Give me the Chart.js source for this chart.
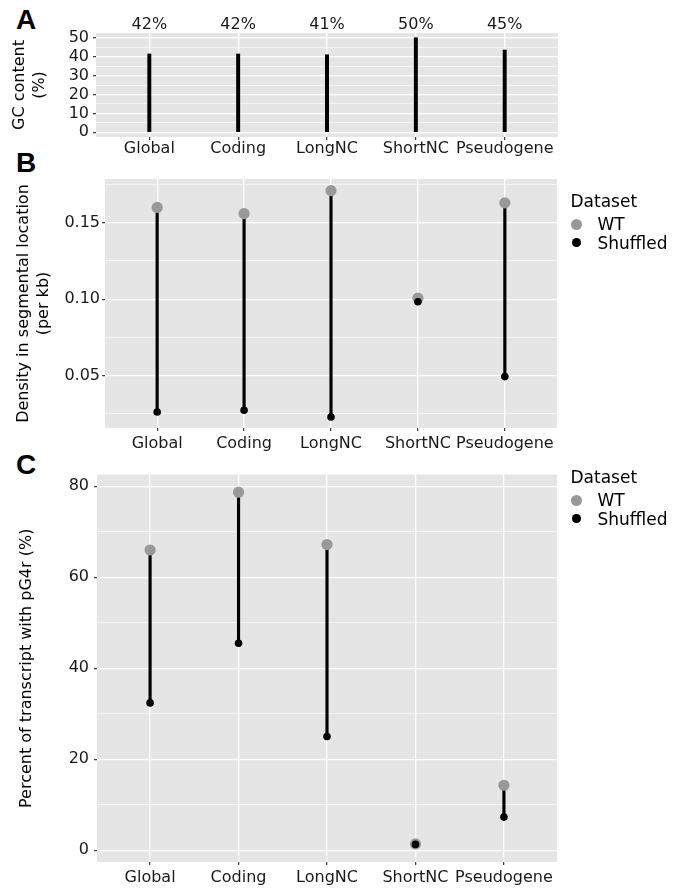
<!DOCTYPE html>
<html>
<head>
<meta charset="utf-8">
<script src="https://cdn.jsdelivr.net/npm/chart.js@4.4.1/dist/chart.umd.min.js"></script>
<style>
  body { margin: 0; background: #fff; width: 687px; height: 889px; position: relative; overflow: hidden; font-family: "DejaVu Sans"; }
  canvas { position: absolute; left: 0; }
  .tag { position: absolute; left: 16px; font: bold 28px "Liberation Sans"; line-height: 28px; color: #000; }
  .lg { position: absolute; font-size: 17px; line-height: 20px; color: #000; white-space: nowrap; }
  .dot { position: absolute; border-radius: 50%; }
</style>
</head>
<body>
<div class="tag" style="top:6px">A</div>
<div class="tag" style="top:149px">B</div>
<div class="tag" style="top:451px">C</div>
<canvas id="gcChart" width="687" height="160" style="top:0"></canvas>
<canvas id="densityChart" width="687" height="300" style="top:160px"></canvas>
<canvas id="pctChart" width="687" height="429" style="top:460px"></canvas>
<script>
const categories = ['Global', 'Coding', 'LongNC', 'ShortNC', 'Pseudogene'];
const seriesNames = ['WT', 'Shuffled'];
const legendTitle = 'Dataset';

const gcContent = [41.4, 41.4, 41.0, 50.0, 43.5];
const gcLabels = ['42%', '42%', '41%', '50%', '45%'];
const gcTicks = [0, 10, 20, 30, 40, 50];
const gcTickLabels = ['0', '10', '20', '30', '40', '50'];
const gcMinor = [5, 15, 25, 35, 45];

const densityWT = [0.160, 0.156, 0.171, 0.1007, 0.163];
const densityShuffled = [0.0263, 0.0274, 0.0230, 0.0983, 0.0494];
const densityTicks = [0.05, 0.10, 0.15];
const densityTickLabels = ['0.05', '0.10', '0.15'];
const densityMinor = [0.025, 0.075, 0.125, 0.175];

const pctWT = [66.0, 78.7, 67.2, 1.4, 14.3];
const pctShuffled = [32.4, 45.5, 25.0, 1.3, 7.3];
const pctTicks = [0, 20, 40, 60, 80];
const pctTickLabels = ['0', '20', '40', '60', '80'];
const pctMinor = [10, 30, 50, 70];

const FONT = 'DejaVu Sans';
const TICK_COLOR = '#1a1a1a';
const WT_COLOR = '#999999';

const panelBg = {
  id: 'panelBg',
  beforeDraw(chart) {
    const { ctx, chartArea: a } = chart;
    ctx.save();
    ctx.fillStyle = '#E5E5E5';
    ctx.fillRect(a.left, a.top, a.right - a.left, a.bottom - a.top);
    ctx.restore();
  }
};

function yScale(o) {
  const all = o.major.concat(o.minor).sort((a, b) => a - b);
  const isMajor = v => o.major.indexOf(v) >= 0;
  return {
    type: 'linear', min: o.min, max: o.max, bounds: 'data',
    afterBuildTicks: s => { s.ticks = all.map(v => ({ value: v })); },
    afterFit: s => { s.width = o.width; },
    ticks: {
      autoSkip: false, padding: o.pad, color: TICK_COLOR, font: { family: FONT, size: 16 },
      callback: v => { const i = o.major.indexOf(v); return i < 0 ? '' : o.labels[i]; }
    },
    grid: {
      color: '#fff',
      lineWidth: c => isMajor(c.tick.value) ? 1.3 : 0.6,
      tickLength: 3,
      tickWidth: 1.2,
      tickColor: c => isMajor(c.tick.value) ? '#333' : 'rgba(0,0,0,0)'
    },
    border: { display: false },
    title: {
      display: true, text: o.title, color: '#000',
      font: { family: FONT, size: 16, lineHeight: 1.25 },
      padding: { top: o.tpad, bottom: 0 }
    }
  };
}

function xScale(o) {
  return {
    type: 'linear', min: 0.4, max: 5.6, bounds: 'data', offset: false,
    afterBuildTicks: s => { s.ticks = categories.map((c, i) => ({ value: i + 1 })); },
    afterFit: s => { s.height = o.height; },
    ticks: {
      autoSkip: false, maxRotation: 0, padding: o.pad, color: TICK_COLOR,
      font: { family: FONT, size: 16 },
      callback: v => categories[v - 1]
    },
    grid: { offset: false, color: '#fff', lineWidth: 1.3, tickLength: 3, tickWidth: 1.2, tickColor: '#333' },
    border: { display: false }
  };
}

function dumbbell(wt, sh) {
  return [
    {
      type: 'line', label: seriesNames[1], order: 0, showLine: false,
      data: sh.map((v, i) => ({ x: i + 1, y: v })),
      pointRadius: 3.8, pointBackgroundColor: '#000', pointBorderWidth: 0
    },
    {
      type: 'line', label: seriesNames[0], order: 1, showLine: false,
      data: wt.map((v, i) => ({ x: i + 1, y: v })),
      pointRadius: 5.6, pointBackgroundColor: WT_COLOR, pointBorderWidth: 0
    },
    {
      type: 'bar', label: 'range', order: 2,
      data: wt.map((v, i) => ({ x: i + 1, y: [sh[i], v] })),
      backgroundColor: '#000', barThickness: 2.5
    }
  ];
}

const common = {
  responsive: false,
  animation: false,
  events: [],
  plugins: { legend: { display: false }, tooltip: { enabled: false } }
};

// A: GC content
const gcTopLabels = {
  id: 'gcTopLabels',
  afterDraw(chart) {
    const { ctx } = chart;
    const xs = chart.scales.x;
    ctx.save();
    ctx.font = '16px "' + FONT + '"';
    ctx.fillStyle = TICK_COLOR;
    ctx.textAlign = 'center';
    ctx.textBaseline = 'middle';
    gcLabels.forEach((t, i) => ctx.fillText(t, xs.getPixelForValue(i + 1), 24.8));
    ctx.restore();
  }
};

new Chart(document.getElementById('gcChart'), {
  type: 'bar',
  data: {
    datasets: [{
      data: gcContent.map((v, i) => ({ x: i + 1, y: v })),
      backgroundColor: '#000', barThickness: 3.3
    }]
  },
  options: Object.assign({}, common, {
    layout: { padding: { top: 33, right: 129, left: 0, bottom: 0 } },
    scales: {
      x: xScale({ height: 23, pad: -0.5 }),
      y: yScale({ min: -2.5, max: 52.5, major: gcTicks, labels: gcTickLabels, minor: gcMinor,
                  width: 96, pad: 4, title: ['GC content', '(%)'], tpad: 9.5 })
    }
  }),
  plugins: [panelBg, gcTopLabels]
});

// B: density
new Chart(document.getElementById('densityChart'), {
  type: 'bar',
  data: { datasets: dumbbell(densityWT, densityShuffled) },
  options: Object.assign({}, common, {
    layout: { padding: { top: 19, right: 130, left: 0, bottom: 0 } },
    scales: {
      x: xScale({ height: 32, pad: 3 }),
      y: yScale({ min: 0.0158, max: 0.1786, major: densityTicks, labels: densityTickLabels, minor: densityMinor,
                  width: 105, pad: 2, title: ['Density in segmental location', '(per kb)'], tpad: 14 })
    }
  }),
  plugins: [panelBg]
});

// C: percent of transcripts
new Chart(document.getElementById('pctChart'), {
  type: 'bar',
  data: { datasets: dumbbell(pctWT, pctShuffled) },
  options: Object.assign({}, common, {
    layout: { padding: { top: 7, right: 130, left: 0, bottom: 0 } },
    scales: {
      x: xScale({ height: 27, pad: 3 }),
      y: yScale({ min: -2.57, max: 82.57, major: pctTicks, labels: pctTickLabels, minor: pctMinor,
                  width: 97, pad: 5, title: 'Percent of transcript with pG4r (%)', tpad: 17.3 })
    }
  }),
  plugins: [panelBg]
});

// legends
function addLegend(titleY) {
  const items = [
    { text: legendTitle, y: titleY, left: 570.5 },
    { text: seriesNames[0], y: titleY + 23.5, left: 597.5, dot: WT_COLOR, d: 11 },
    { text: seriesNames[1], y: titleY + 42, left: 597.5, dot: '#000', d: 8.5 }
  ];
  items.forEach(it => {
    const el = document.createElement('div');
    el.className = 'lg';
    el.textContent = it.text;
    el.style.left = it.left + 'px';
    el.style.top = (it.y - 10) + 'px';
    document.body.appendChild(el);
    if (it.dot) {
      const d = document.createElement('span');
      d.className = 'dot';
      d.style.background = it.dot;
      d.style.width = d.style.height = it.d + 'px';
      d.style.left = (576.5 - it.d / 2) + 'px';
      d.style.top = (it.y - it.d / 2) + 'px';
      document.body.appendChild(d);
    }
  });
}
addLegend(200.7);
addLegend(476.7);
</script>
</body>
</html>
